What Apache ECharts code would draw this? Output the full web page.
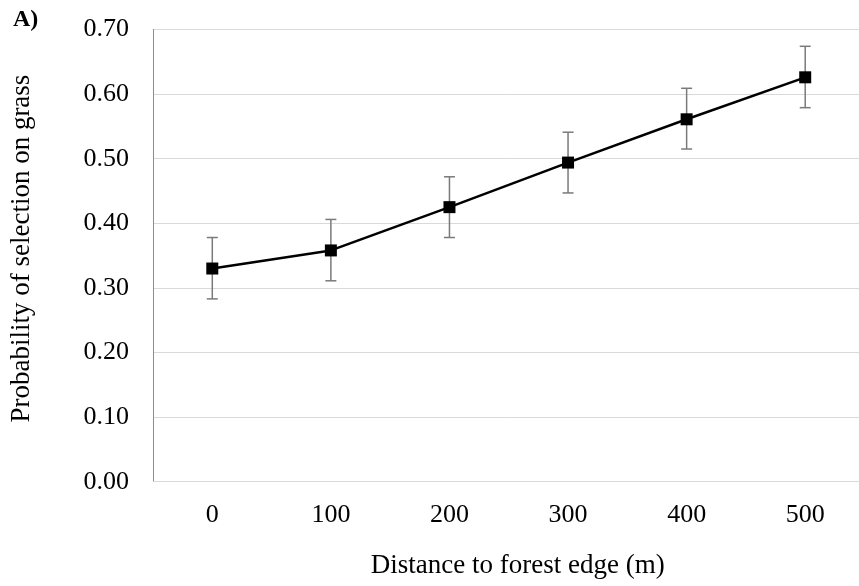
<!DOCTYPE html>
<html>
<head>
<meta charset="utf-8">
<script src="https://cdn.jsdelivr.net/npm/echarts@6/dist/echarts.min.js"></script>
<style>
  html, body { margin: 0; padding: 0; background: #fff; overflow: hidden; }
  #chart { width: 865px; height: 586px; }
</style>
</head>
<body>
<div id="chart"></div>
<script>
let distances = ['0', '100', '200', '300', '400', '500'];
let probability = [0.330, 0.358, 0.425, 0.494, 0.561, 0.626];
let errLow = [0.283, 0.311, 0.378, 0.447, 0.515, 0.579];
let errHigh = [0.378, 0.406, 0.472, 0.541, 0.609, 0.674];

let font = '"Liberation Serif", "Times New Roman", serif';
let chart = echarts.init(document.getElementById('chart'));

// error bars: [category index, low, high]
let errData = distances.map((d, i) => [i, errLow[i], errHigh[i]]);

let option = {
  animation: false,
  graphic: [{
    type: 'text',
    left: 13,
    top: 8,
    style: { text: 'A)', font: 'bold 24px ' + font, fill: '#000' }
  }],
  grid: { left: 151.5, right: 0.5, top: 29.5, bottom: 104.3 },
  xAxis: {
    type: 'category',
    data: distances,
    boundaryGap: true,
    axisLine: { show: true, lineStyle: { color: '#d9d9d9', width: 1 } },
    axisTick: { show: false },
    axisLabel: { color: '#000', fontFamily: font, fontSize: 26, margin: 20 },
    name: 'Distance to forest edge (m)',
    nameLocation: 'middle',
    nameGap: 71,
    nameTextStyle: { color: '#000', fontFamily: font, fontSize: 27, padding: [0, 0, 0, 18] }
  },
  yAxis: {
    type: 'value',
    min: 0,
    max: 0.7,
    interval: 0.1,
    axisLine: { show: true, lineStyle: { color: '#8c8c8c', width: 1 } },
    axisTick: { show: false },
    splitLine: { lineStyle: { color: '#d9d9d9', width: 1 } },
    axisLabel: {
      color: '#000', fontFamily: font, fontSize: 26, margin: 24,
      formatter: v => v.toFixed(2)
    },
    name: 'Probability of selection on grass',
    nameLocation: 'middle',
    nameGap: 118,
    nameTextStyle: { color: '#000', fontFamily: font, fontSize: 27, padding: [0, 0, 0, 14] }
  },
  series: [
    {
      type: 'custom',
      data: errData,
      z: 1,
      renderItem: function (params, api) {
        let x = api.value(0);
        let lo = api.coord([x, api.value(1)]);
        let hi = api.coord([x, api.value(2)]);
        let half = 5.5;
        let style = { stroke: '#7a7a7a', lineWidth: 1.5 };
        return {
          type: 'group',
          children: [
            { type: 'line', shape: { x1: lo[0], y1: lo[1], x2: hi[0], y2: hi[1] }, style: style },
            { type: 'line', shape: { x1: lo[0] - half, y1: lo[1], x2: lo[0] + half, y2: lo[1] }, style: style },
            { type: 'line', shape: { x1: hi[0] - half, y1: hi[1], x2: hi[0] + half, y2: hi[1] }, style: style }
          ]
        };
      }
    },
    {
      type: 'line',
      data: probability,
      z: 2,
      symbol: 'rect',
      symbolSize: 12,
      itemStyle: { color: '#000' },
      lineStyle: { color: '#000', width: 2.5 }
    }
  ]
};

option && chart.setOption(option);
</script>
</body>
</html>
